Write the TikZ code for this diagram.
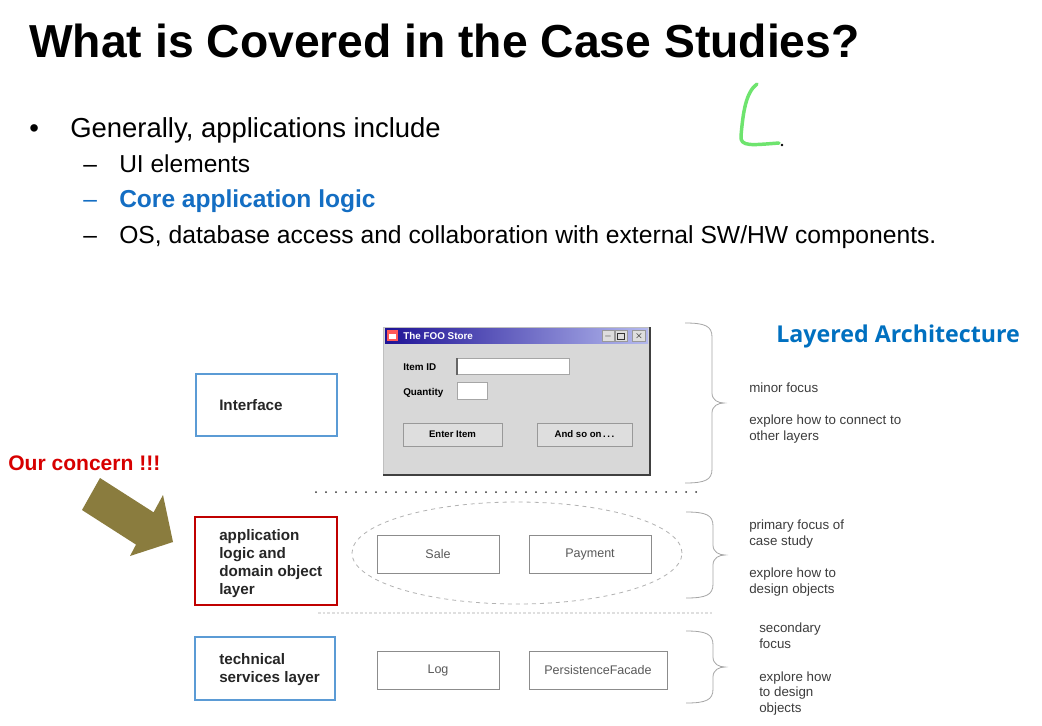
\documentclass[tikz,border=0pt]{standalone}
\usepackage{fontspec}
\setmainfont{Liberation Sans}
\newfontfamily\archfont{Open Sans}
\usetikzlibrary{shapes.geometric}
\definecolor{layerblue}{RGB}{91,155,213}
\definecolor{layerred}{RGB}{192,0,0}
\definecolor{concernred}{RGB}{215,0,0}
\definecolor{coreblue}{RGB}{20,110,195}
\definecolor{archblue}{RGB}{0,112,192}
\definecolor{olivearrow}{RGB}{138,124,62}
\definecolor{wingray}{RGB}{216,216,216}
\definecolor{txtgray}{RGB}{60,60,60}
\definecolor{boxgray}{RGB}{140,140,140}
\definecolor{inkgreen}{RGB}{110,228,110}
\tikzset{
  lbl/.style={inner sep=0pt, anchor=base west},
  layerbox/.style={draw, line width=1.5pt, fill=white},
  layertext/.style={inner sep=0pt, anchor=west, align=left, font=\fontsize{11.4}{13.5}\selectfont\bfseries, text=black!85},
  objbox/.style={draw=boxgray, line width=0.6pt, minimum height=28.5pt, inner sep=0pt, font=\fontsize{9.4}{11}\selectfont, text=black!65},
  note/.style={inner sep=0pt, anchor=base west, align=left, font=\fontsize{10}{11.6}\selectfont, text=txtgray},
  bracestyle/.style={draw=gray!70, line width=0.6pt},
  winbtn/.style={draw=gray!80, fill=wingray!85!white, inner sep=0pt, font=\fontsize{7.2}{8}\selectfont\bfseries},
  winfield/.style={draw=gray!70, fill=white, inner sep=0pt, anchor=north west},
  winlbl/.style={inner sep=0pt, anchor=base west, font=\fontsize{7.4}{8}\selectfont\bfseries}
}
\newcommand\layerbrace[3]{%
  \pgfmathsetmacro\bm{(#2+#3)/2}%
  \draw[bracestyle] (#1,#2) .. controls ({#1+20},#2) and ({#1+27},{#2+3}) .. ({#1+27},{#2+14})
    -- ({#1+27},{\bm-10}) .. controls ({#1+27},{\bm-3}) and ({#1+33},\bm) .. ({#1+39},\bm)
    .. controls ({#1+33},\bm) and ({#1+27},{\bm+3}) .. ({#1+27},{\bm+10})
    -- ({#1+27},{#3-14}) .. controls ({#1+27},{#3-3}) and ({#1+20},#3) .. (#1,#3);}
\begin{document}
\begin{tikzpicture}[x=0.75pt,y=-0.75pt]
\useasboundingbox[fill=white] (0,0) rectangle (1042,725);

% title and bullets
\node[lbl, font=\fontsize{34.7}{40}\selectfont\bfseries] (title) at (29,57) {What is Covered in the Case Studies?};
\node[lbl, font=\fontsize{20.6}{24}\selectfont] (bul) at (29,137) {•};
\node[lbl, font=\fontsize{20.6}{24}\selectfont] (b1) at (70,137) {Generally, applications include};
\node[lbl, font=\fontsize{18.4}{22}\selectfont] (d1) at (83,172) {–};
\node[lbl, font=\fontsize{18.4}{22}\selectfont] (s1) at (119,172) {UI elements};
\node[lbl, font=\fontsize{18.4}{22}\selectfont, text=coreblue] (d2) at (83,207) {–};
\node[lbl, font=\fontsize{18.4}{22}\selectfont\bfseries, text=coreblue] (s2) at (119,207) {Core application logic};
\node[lbl, font=\fontsize{18.4}{22}\selectfont] (d3) at (83,243) {–};
\node[lbl, font=\fontsize{18.5}{22}\selectfont] (s3) at (119,243) {OS, database access and collaboration with external SW/HW components.};

% green ink mark
\draw[inkgreen, line width=2.6pt, line cap=round, line join=round]
  (757,84) .. controls (746,92) and (743,112) .. (741,136) .. controls (740,147) and (752,145) .. (779,143);
\fill[black] (782,145) circle[radius=1.4];

% heading right
\node[lbl, font=\archfont\fontsize{17.4}{22}\selectfont\bfseries, text=archblue] (arch) at (776,342) {Layered Architecture};

% window (The FOO Store)
\fill[wingray] (383,327) rectangle (650,475);
\draw[gray!50] (383,475) -- (383,327) -- (650,327);
\draw[black!75, line width=1pt] (650,327) -- (650,475) -- (383,475);
\shade[left color={rgb,255:red,30;green,18;blue,150}, right color={rgb,255:red,180;green,185;blue,238}] (385,328) rectangle (648,343);
\fill[red!65] (387,330) rectangle (398,341);
\fill[white] (389,334) rectangle (396,339);
\node[winlbl, text=white] (wtitle) at (403,339) {The FOO Store};
\node[winbtn, minimum width=9pt, minimum height=8pt] (wmin) at (608,336) {\_};
\node[winbtn, minimum width=9pt, minimum height=8pt] (wmax) at (621,336) {};
\draw[black!80, line width=0.6pt] (617.5,333) rectangle (624.5,339.5);
\node[winbtn, minimum width=10pt, minimum height=8pt] (wclose) at (639,336) {$\times$};
\node[winlbl] (itemlbl) at (403,370) {Item ID};
\node[winfield, minimum width=84pt, minimum height=12pt] (itemfld) at (457,358) {};
\draw[black!60, line width=1pt] (itemfld.north west) -- (itemfld.south west);
\node[winlbl] (qtylbl) at (403,395) {Quantity};
\node[winfield, minimum width=22.5pt, minimum height=12.75pt] (qtyfld) at (457,382) {};
\node[winbtn, minimum width=74.25pt, minimum height=17.25pt] (enter) at (452.5,434.5) {Enter Item};
\node[winbtn, minimum width=71.25pt, minimum height=17.25pt] (andso) at (584.5,434.5) {And so on\,.\,.\,.};

% separators
\draw[black!80, line width=1.5pt, line cap=round, dash pattern=on 0pt off 7.5pt] (316,492) -- (706,492);
\draw[gray!25, line width=0.8pt, dash pattern=on 2pt off 1.5pt] (318,613) -- (712,613);

% domain ellipse and objects
\node[draw=gray!60, dashed, line width=0.6pt, ellipse, minimum width=247.5pt, minimum height=76.5pt, inner sep=0pt] (domain) at (517,553) {};
\node[objbox, minimum width=91.5pt] (sale) at (438,554) {Sale};
\node[objbox, minimum width=91.5pt] (payment) at (590,554) {Payment};
\node[objbox, minimum width=91.5pt] (log) at (438,670) {Log};
\node[objbox, minimum width=103.5pt] (persist) at (598,670) {PersistenceFacade};

% layer boxes
\node[layerbox, draw=layerblue, minimum width=105.75pt, minimum height=46.5pt] (iface) at (266.5,405) {};
\node[layertext] (ifacet) at (219,405) {Interface};
\node[layerbox, draw=layerred, minimum width=106.5pt, minimum height=66pt] (app) at (266,561) {};
\node[layertext] (appt) at (219,564) {application\\logic and\\domain object\\layer};
\node[layerbox, draw=layerblue, minimum width=105pt, minimum height=47.25pt] (tech) at (265,668.5) {};
\node[layertext] (techt) at (219,670) {technical\\services layer};

% concern arrow
\node[lbl, font=\fontsize{15.8}{18}\selectfont\bfseries, text=concernred] (concern) at (8,470) {Our concern !!!};
\fill[olivearrow] (100,478) -- (153.6,512.3) -- (163,495) -- (173,542) -- (130,556) -- (136,544.6) -- (82,510) -- cycle;

% braces
\layerbrace{685}{323}{483}
\layerbrace{686}{512}{598}
\layerbrace{686}{631}{703}

% notes (anchor at the baseline of the last line)
\node[note] (n1) at (749,392) {minor focus};
\node[note] (n2) at (749,440) {explore how to connect to\\other layers};
\node[note] (n3) at (749,545) {primary focus of\\case study};
\node[note] (n4) at (749,593) {explore how to\\design objects};
\node[note] (n5) at (759,648) {secondary\\focus};
\node[note] (n6) at (759,712) {explore how\\to design\\objects};
\end{tikzpicture}
\end{document}
